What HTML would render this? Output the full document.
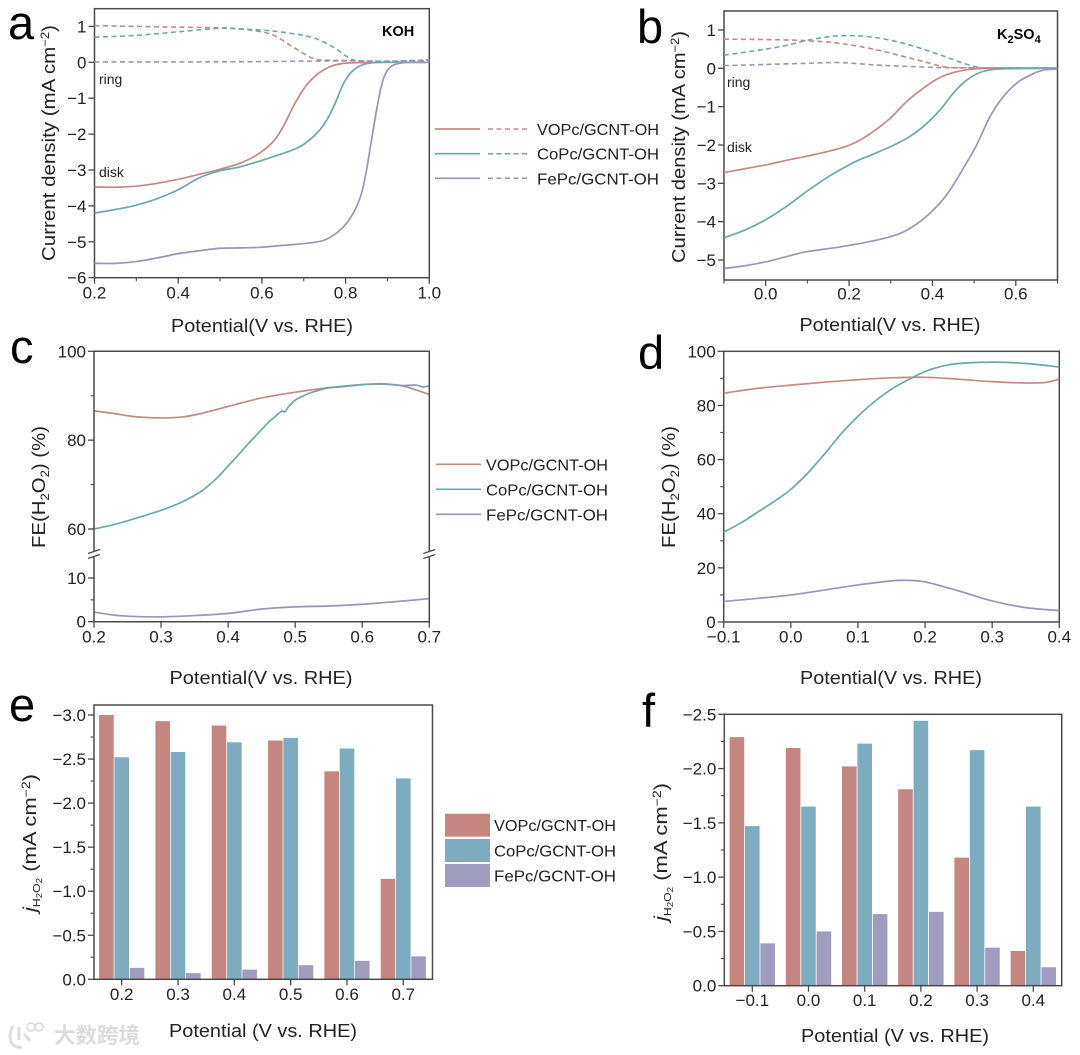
<!DOCTYPE html>
<html lang="en">
<head>
<meta charset="utf-8">
<title>H2O2 electrocatalysis panels</title>
<style>
html,body{margin:0;padding:0;background:#fff;width:1080px;height:1055px;overflow:hidden}
svg{display:block;filter:blur(0.35px)}
text{font-family:"Liberation Sans","Noto Sans CJK SC",sans-serif;fill:#222}
</style>
</head>
<body>
<svg id="figure" xmlns="http://www.w3.org/2000/svg" width="1080" height="1055" viewBox="0 0 1080 1055"></svg>
<script>
// ---------- Series labels ----------
const seriesNames = ['VOPc/GCNT-OH', 'CoPc/GCNT-OH', 'FePc/GCNT-OH'];

// ---------- Panel a (KOH) ----------
const aVoDiskX = [0.2,0.25,0.3,0.35,0.4,0.45,0.5,0.548,0.588,0.627,0.651,0.679,0.707,0.735,0.763,0.795,0.83,0.9,1.0];
const aVoDiskY = [-3.47,-3.48,-3.45,-3.37,-3.26,-3.12,-2.98,-2.81,-2.58,-2.21,-1.79,-1.14,-0.63,-0.31,-0.12,-0.03,-0.01,0,0];
const aCoDiskX = [0.2,0.25,0.3,0.35,0.4,0.45,0.5,0.548,0.627,0.691,0.731,0.755,0.775,0.795,0.815,0.838,0.866,0.9,1.0];
const aCoDiskY = [-4.2,-4.1,-3.98,-3.8,-3.55,-3.22,-3.02,-2.91,-2.63,-2.35,-1.98,-1.61,-1.14,-0.59,-0.26,-0.08,-0.01,0,0];
const aFeDiskX = [0.2,0.25,0.3,0.35,0.4,0.45,0.5,0.55,0.6,0.65,0.7,0.75,0.79,0.818,0.838,0.85,0.862,0.874,0.886,0.898,0.914,0.94,1.0];
const aFeDiskY = [-5.6,-5.6,-5.55,-5.45,-5.33,-5.25,-5.18,-5.17,-5.15,-5.1,-5.05,-4.95,-4.64,-4.21,-3.65,-3.0,-2.16,-1.33,-0.63,-0.26,-0.08,-0.01,0];
const aVoRingX = [0.2,0.3,0.4,0.5,0.548,0.588,0.627,0.667,0.699,0.727,0.755,0.8,0.9,1.0];
const aVoRingY = [1.02,1.0,0.98,0.96,0.93,0.87,0.76,0.48,0.25,0.09,0.06,0.05,0.03,0.05];
const aCoRingX = [0.2,0.3,0.4,0.5,0.548,0.627,0.707,0.747,0.779,0.803,0.823,0.85,1.0];
const aCoRingY = [0.7,0.75,0.85,0.95,0.93,0.87,0.73,0.57,0.36,0.16,0.05,0.03,0.03];
const aFeRingX = [0.2,0.4,0.6,0.8,0.9,1.0];
const aFeRingY = [0.01,0.01,0.02,0.04,0.03,0.07];
const aXTicks = [0.2,0.4,0.6,0.8,1.0];
const aXMinor = [0.3,0.5,0.7,0.9];
const aYTicks = [1,0,-1,-2,-3,-4,-5,-6];

// ---------- Panel b (K2SO4) ----------
const bVoDiskX = [-0.1,-0.05,0,0.05,0.1,0.178,0.218,0.258,0.298,0.338,0.378,0.418,0.458,0.498,0.55,0.7];
const bVoDiskY = [-2.72,-2.62,-2.52,-2.4,-2.29,-2.09,-1.92,-1.65,-1.31,-0.87,-0.52,-0.24,-0.09,-0.02,0,0];
const bCoDiskX = [-0.1,-0.05,0,0.05,0.1,0.15,0.178,0.218,0.258,0.298,0.338,0.378,0.418,0.45,0.482,0.514,0.546,0.58,0.7];
const bCoDiskY = [-4.42,-4.22,-3.95,-3.6,-3.2,-2.83,-2.65,-2.42,-2.24,-2.05,-1.83,-1.52,-1.09,-0.65,-0.31,-0.11,-0.03,-0.01,0];
const bFeDiskX = [-0.1,-0.05,0,0.05,0.1,0.178,0.258,0.322,0.37,0.41,0.442,0.474,0.506,0.538,0.57,0.602,0.634,0.666,0.7];
const bFeDiskY = [-5.22,-5.15,-5.05,-4.91,-4.78,-4.66,-4.5,-4.31,-4.0,-3.61,-3.18,-2.61,-2.0,-1.26,-0.74,-0.39,-0.18,-0.05,-0.02];
const bVoRingX = [-0.1,0,0.1,0.178,0.258,0.338,0.394,0.434,0.5,0.7];
const bVoRingY = [0.76,0.75,0.72,0.65,0.5,0.29,0.13,0.03,0.01,0.01];
const bCoRingX = [-0.1,0,0.05,0.1,0.178,0.258,0.338,0.418,0.474,0.514,0.55,0.7];
const bCoRingY = [0.34,0.5,0.6,0.73,0.85,0.81,0.63,0.35,0.13,0.02,0.01,0.01];
const bFeRingX = [-0.1,0,0.1,0.178,0.258,0.338,0.418,0.5,0.7];
const bFeRingY = [0.07,0.1,0.13,0.15,0.09,0.05,0.02,0.01,0];
const bXTicks = [0.0,0.2,0.4,0.6];
const bXMinor = [-0.1,0.1,0.3,0.5,0.7];
const bYTicks = [1,0,-1,-2,-3,-4,-5];

// ---------- Panel c (KOH, broken axis) ----------
const cVoX = [0.2,0.23,0.26,0.3,0.33,0.36,0.4,0.45,0.5,0.55,0.6,0.63,0.66,0.68,0.7];
const cVoY = [86.6,86,85.3,85,85.2,86,87.6,89.5,90.8,91.8,92.5,92.6,92.2,91.3,90.3];
const cCoX = [0.2,0.23,0.26,0.3,0.33,0.36,0.38,0.39,0.4,0.41,0.42,0.43,0.44,0.45,0.46,0.47,0.48,0.485,0.49,0.5,0.51,0.52,0.53,0.55,0.57,0.6,0.63,0.66,0.68,0.69,0.7];
const cCoY = [60,61,62.3,64.2,66,68.5,71,72.5,74.2,75.8,77.5,79.2,80.8,82.4,84,85.3,86.5,86.4,87.5,89,89.8,90.5,91,91.8,92,92.5,92.7,92.3,92.4,92,92.2];
const cFeX = [0.2,0.23,0.26,0.3,0.35,0.4,0.45,0.5,0.55,0.6,0.65,0.68,0.7];
const cFeY = [2.2,1.5,1.2,1.1,1.4,1.9,2.9,3.4,3.6,4,4.6,5,5.3];
const cXTicks = [0.2,0.3,0.4,0.5,0.6,0.7];
const cUpperTicks = [60,80,100];
const cUpperMinor = [70,90];
const cLowerTicks = [0,10];
const cLowerMinor = [5];

// ---------- Panel d (K2SO4) ----------
const dVoX = [-0.1,-0.05,0,0.05,0.1,0.15,0.2,0.25,0.3,0.35,0.38,0.4];
const dVoY = [84.5,86.3,87.5,88.6,89.5,90.2,90.4,89.7,88.8,88.3,88.5,89.8];
const dCoX = [-0.1,-0.075,-0.05,-0.025,0,0.025,0.05,0.075,0.1,0.125,0.15,0.175,0.2,0.225,0.25,0.3,0.35,0.4];
const dCoY = [33.2,36.5,40.5,44.5,49,55,62,69.5,76,81.5,86,89.5,92.5,94.5,95.5,96,95.5,94.2];
const dFeX = [-0.1,-0.05,0,0.05,0.1,0.15,0.17,0.2,0.25,0.3,0.35,0.4];
const dFeY = [7.6,8.7,10,11.8,13.7,15.2,15.4,14.8,11.5,7.8,5.3,4.2];
const dXTicks = [-0.1,0.0,0.1,0.2,0.3,0.4];
const dYTicks = [0,20,40,60,80,100];
const dYMinor = [10,30,50,70,90];

// ---------- Panel e (bars, KOH) ----------
const eCategories = [0.2,0.3,0.4,0.5,0.6,0.7];
const eVo = [-3.0,-2.93,-2.88,-2.71,-2.36,-1.14];
const eCo = [-2.52,-2.58,-2.69,-2.74,-2.62,-2.28];
const eFe = [-0.13,-0.07,-0.11,-0.16,-0.21,-0.26];
const eYTicks = [0,-0.5,-1,-1.5,-2,-2.5,-3];
const eYMinor = [-0.25,-0.75,-1.25,-1.75,-2.25,-2.75];

// ---------- Panel f (bars, K2SO4) ----------
const fCategories = [-0.1,0.0,0.1,0.2,0.3,0.4];
const fVo = [-2.29,-2.19,-2.02,-1.81,-1.18,-0.32];
const fCo = [-1.47,-1.65,-2.23,-2.44,-2.17,-1.65];
const fFe = [-0.39,-0.5,-0.66,-0.68,-0.35,-0.17];
const fYTicks = [0,-0.5,-1,-1.5,-2,-2.5];
const fYMinor = [-0.25,-0.75,-1.25,-1.75,-2.25];

// ---------- Drawing helpers ----------
const svg = document.getElementById('figure');
const NS = 'http://www.w3.org/2000/svg';
const LINE = ['#c28b83', '#6fa6ae', '#9a95b9'];
const BAR = ['#c68680', '#7dabc0', '#a09cc0'];
const AX = '#4a4a4a';

function make(parent, tag, attrs, name) {
  const el = document.createElementNS(NS, tag);
  for (const k in attrs) el.setAttribute(k, attrs[k]);
  
  
  parent.appendChild(el);
  return el;
}
function linear(d0, d1, r0, r1) { return v => r0 + (v - d0) * (r1 - r0) / (d1 - d0); }
function label(parent, x, y, str, name, opts) {
  const t = make(parent, 'text', Object.assign({x: x, y: y, 'font-size': 17}, opts || {}), name);
  t.textContent = str;
  return t;
}
function fmt(v, dec) { return v.toFixed(dec).replace('-', '\u2212'); }
function smooth(pts) {
  let d = 'M' + pts[0][0].toFixed(2) + ' ' + pts[0][1].toFixed(2);
  for (let i = 0; i < pts.length - 1; i++) {
    const p0 = pts[Math.max(i - 1, 0)], p1 = pts[i], p2 = pts[i + 1], p3 = pts[Math.min(i + 2, pts.length - 1)];
    const c1x = p1[0] + (p2[0] - p0[0]) / 6, c1y = p1[1] + (p2[1] - p0[1]) / 6;
    const c2x = p2[0] - (p3[0] - p1[0]) / 6, c2y = p2[1] - (p3[1] - p1[1]) / 6;
    d += 'C' + c1x.toFixed(2) + ' ' + c1y.toFixed(2) + ' ' + c2x.toFixed(2) + ' ' + c2y.toFixed(2) + ' ' + p2[0].toFixed(2) + ' ' + p2[1].toFixed(2);
  }
  return d;
}
function curve(g, xs, ys, sx, sy, color, name, dashed) {
  const pts = xs.map((x, i) => [sx(x), sy(ys[i])]);
  const attrs = {d: smooth(pts), fill: 'none', stroke: color, 'stroke-width': dashed ? 1.6 : 1.7};
  if (dashed) attrs['stroke-dasharray'] = '5 3.5';
  make(g, 'path', attrs, name);
}
function xAxis(g, ticks, minor, sx, y0, dec, labelY) {
  ticks.forEach(v => {
    make(g, 'line', {x1: sx(v), x2: sx(v), y1: y0, y2: y0 + 6, stroke: AX, 'stroke-width': 1.3}, 'x-tick');
    label(g, sx(v), labelY, fmt(v, dec), 'x-tick-label', {'text-anchor': 'middle'});
  });
  minor.forEach(v => make(g, 'line', {x1: sx(v), x2: sx(v), y1: y0, y2: y0 + 3.5, stroke: AX, 'stroke-width': 1.1}, 'x-minor-tick'));
}
function yAxis(g, ticks, minor, sy, x0, dec) {
  ticks.forEach(v => {
    make(g, 'line', {x1: x0, x2: x0 - 6, y1: sy(v), y2: sy(v), stroke: AX, 'stroke-width': 1.3}, 'y-tick');
    label(g, x0 - 8, sy(v) + 6, fmt(v, dec), 'y-tick-label', {'text-anchor': 'end'});
  });
  minor.forEach(v => make(g, 'line', {x1: x0, x2: x0 - 3.5, y1: sy(v), y2: sy(v), stroke: AX, 'stroke-width': 1.1}, 'y-minor-tick'));
}
function frame(g, x0, y0, x1, y1) {
  make(g, 'rect', {x: x0, y: y0, width: x1 - x0, height: y1 - y0, fill: 'none', stroke: AX, 'stroke-width': 1.5}, 'plot-frame');
}
function panelLetter(g, x, y, ch) {
  label(g, x, y, ch, 'panel-letter-' + ch, {'font-size': 47, style: 'fill:#000'});
}
function xTitle(g, cx, y, str, len) {
  label(g, cx, y, str, 'x-axis-title', {'font-size': 18, 'text-anchor': 'middle', textLength: len, lengthAdjust: 'spacingAndGlyphs'});
}
function yTitle(g, x, cy, parts, len, size) {
  const t = make(g, 'text', {transform: 'translate(' + x + ',' + cy + ') rotate(-90)', 'font-size': size || 18, 'text-anchor': 'middle', textLength: len, lengthAdjust: 'spacingAndGlyphs'}, 'y-axis-title');
  parts.forEach(p => {
    const s = document.createElementNS(NS, 'tspan');
    
    
    if (p.dy) s.setAttribute('dy', p.dy);
    if (p.size) s.setAttribute('font-size', p.size);
    if (p.italic) s.setAttribute('font-style', 'italic');
    s.textContent = p.t;
    t.appendChild(s);
  });
}
function panelGroup(name) { return make(svg, 'g', {}, name); }

const CURRENT_TITLE = [{t: 'Current density (mA cm'}, {t: '\u22122', dy: -6, size: 11.5}, {t: ')', dy: 6}];
const FE_TITLE = [{t: 'FE(H'}, {t: '2', dy: 4, size: 11.5}, {t: 'O', dy: -4}, {t: '2', dy: 4, size: 11.5}, {t: ') (%)', dy: -4}];
const J_TITLE = [{t: 'j', italic: true}, {t: 'H', dy: 4, size: 10}, {t: '2', dy: 2, size: 8}, {t: 'O', dy: -2, size: 10}, {t: '2', dy: 2, size: 8}, {t: ' (mA cm', dy: -6}, {t: '\u22122', dy: -6, size: 11.5}, {t: ')', dy: 6}];

// ---------- Panel a ----------
(function () {
  const g = panelGroup('panel-a-koh');
  const sx = linear(0.2, 1.0, 94.5, 429.3), sy = linear(0, -6, 62.3, 277.7);
  frame(g, 94.5, 8.7, 429.3, 277.7);
  curve(g, aVoRingX, aVoRingY, sx, sy, LINE[0], 'vopc-ring-line', true);
  curve(g, aCoRingX, aCoRingY, sx, sy, LINE[1], 'copc-ring-line', true);
  curve(g, aFeRingX, aFeRingY, sx, sy, LINE[2], 'fepc-ring-line', true);
  curve(g, aVoDiskX, aVoDiskY, sx, sy, LINE[0], 'vopc-disk-line');
  curve(g, aCoDiskX, aCoDiskY, sx, sy, LINE[1], 'copc-disk-line');
  curve(g, aFeDiskX, aFeDiskY, sx, sy, LINE[2], 'fepc-disk-line');
  xAxis(g, aXTicks, aXMinor, sx, 277.7, 1, 298.5);
  yAxis(g, aYTicks, [], sy, 94.5, 0);
  xTitle(g, 262, 332, 'Potential(V vs. RHE)', 182);
  yTitle(g, 55, 143, CURRENT_TITLE, 236);
  panelLetter(g, 8, 39, 'a');
  label(g, 382, 36, 'KOH', 'electrolyte-label-koh', {'font-size': 14.5, 'font-weight': 'bold', style: 'fill:#000'});
  label(g, 99, 84, 'ring', 'ring-annotation', {'font-size': 14});
  label(g, 99, 177, 'disk', 'disk-annotation', {'font-size': 14});
  const ly = [129, 153.7, 178.3];
  seriesNames.forEach((n, i) => {
    const e = make(g, 'g', {}, 'legend-entry');
    make(e, 'line', {x1: 435, x2: 480, y1: ly[i], y2: ly[i], stroke: LINE[i], 'stroke-width': 1.7}, 'legend-disk-swatch');
    make(e, 'line', {x1: 488, x2: 530, y1: ly[i], y2: ly[i], stroke: LINE[i], 'stroke-width': 1.5, 'stroke-dasharray': '5 3.5'}, 'legend-ring-swatch');
    label(e, 537, ly[i] + 6, n, 'legend-label', {'font-size': 15.5, textLength: 122, lengthAdjust: 'spacingAndGlyphs'});
  });
})();

// ---------- Panel b ----------
(function () {
  const g = panelGroup('panel-b-k2so4');
  const sx = linear(-0.1, 0.7, 724, 1057.5), sy = linear(0, -5, 68.3, 260);
  frame(g, 724, 11, 1057.5, 280);
  curve(g, bVoRingX, bVoRingY, sx, sy, LINE[0], 'vopc-ring-line', true);
  curve(g, bCoRingX, bCoRingY, sx, sy, LINE[1], 'copc-ring-line', true);
  curve(g, bFeRingX, bFeRingY, sx, sy, LINE[2], 'fepc-ring-line', true);
  curve(g, bVoDiskX, bVoDiskY, sx, sy, LINE[0], 'vopc-disk-line');
  curve(g, bCoDiskX, bCoDiskY, sx, sy, LINE[1], 'copc-disk-line');
  curve(g, bFeDiskX, bFeDiskY, sx, sy, LINE[2], 'fepc-disk-line');
  xAxis(g, bXTicks, bXMinor, sx, 280, 1, 299.5);
  yAxis(g, bYTicks, [], sy, 724, 0);
  xTitle(g, 890, 331, 'Potential(V vs. RHE)', 181);
  yTitle(g, 685, 147, CURRENT_TITLE, 232);
  panelLetter(g, 637, 43, 'b');
  const t = label(g, 997, 39, 'K', 'electrolyte-label-k2so4', {'font-size': 14.5, 'font-weight': 'bold', style: 'fill:#000'});
  [['2', 4, 11], ['SO', -4, 14.5], ['4', 4, 11]].forEach(p => {
    const s = document.createElementNS(NS, 'tspan');
    
    
    s.setAttribute('dy', p[1]);
    s.setAttribute('font-size', p[2]);
    s.textContent = p[0];
    t.appendChild(s);
  });
  label(g, 727, 87, 'ring', 'ring-annotation', {'font-size': 14});
  label(g, 727, 152, 'disk', 'disk-annotation', {'font-size': 14});
})();

// ---------- Panel c ----------
(function () {
  const g = panelGroup('panel-c-koh-fe');
  const x0 = 94, x1 = 429.3, top = 351.3, bot = 621.7;
  const sx = linear(0.2, 0.7, x0, x1), up = linear(60, 100, 529, 351.3), low = linear(0, 10, 621.7, 578);
  curve(g, cVoX, cVoY, sx, up, LINE[0], 'vopc-fe-line');
  curve(g, cCoX, cCoY, sx, up, LINE[1], 'copc-fe-line');
  curve(g, cFeX, cFeY, sx, low, LINE[2], 'fepc-fe-line');
  make(g, 'path', {d: 'M' + x0 + ' 551V' + top + 'H' + x1 + 'V551M' + x0 + ' 557V' + bot + 'H' + x1 + 'V557', fill: 'none', stroke: AX, 'stroke-width': 1.5}, 'plot-frame-broken');
  [x0, x1].forEach(x => {
    make(g, 'line', {x1: x - 6, x2: x + 6, y1: 553.5, y2: 549.5, stroke: AX, 'stroke-width': 1.3}, 'axis-break-mark');
    make(g, 'line', {x1: x - 6, x2: x + 6, y1: 558.5, y2: 554.5, stroke: AX, 'stroke-width': 1.3}, 'axis-break-mark');
  });
  xAxis(g, cXTicks, [], sx, bot, 1, 642.5);
  yAxis(g, cUpperTicks, cUpperMinor, up, x0, 0);
  yAxis(g, cLowerTicks, cLowerMinor, low, x0, 0);
  xTitle(g, 261, 684, 'Potential(V vs. RHE)', 183);
  yTitle(g, 45, 487, FE_TITLE, 122);
  panelLetter(g, 10, 363, 'c');
  const ly = [464.3, 489.3, 514.3];
  seriesNames.forEach((n, i) => {
    const e = make(g, 'g', {}, 'legend-entry');
    make(e, 'line', {x1: 436, x2: 481, y1: ly[i], y2: ly[i], stroke: LINE[i], 'stroke-width': 1.7}, 'legend-swatch');
    label(e, 486, ly[i] + 6, n, 'legend-label', {'font-size': 15.5, textLength: 122, lengthAdjust: 'spacingAndGlyphs'});
  });
})();

// ---------- Panel d ----------
(function () {
  const g = panelGroup('panel-d-k2so4-fe');
  const sx = linear(-0.1, 0.4, 723.7, 1059.3), sy = linear(0, 100, 622, 351.3);
  frame(g, 723.7, 351.3, 1059.3, 622);
  curve(g, dVoX, dVoY, sx, sy, LINE[0], 'vopc-fe-line');
  curve(g, dCoX, dCoY, sx, sy, LINE[1], 'copc-fe-line');
  curve(g, dFeX, dFeY, sx, sy, LINE[2], 'fepc-fe-line');
  xAxis(g, dXTicks, [], sx, 622, 1, 642.5);
  yAxis(g, dYTicks, dYMinor, sy, 723.7, 0);
  xTitle(g, 891, 684, 'Potential(V vs. RHE)', 182);
  yTitle(g, 675, 487, FE_TITLE, 122);
  panelLetter(g, 638, 369, 'd');
})();

// ---------- Bars ----------
function bars(g, cats, sx, sy, w, step, list) {
  list.forEach((vals, s) => {
    vals.forEach((v, i) => {
      const top = sy(v), base = sy(0);
      make(g, 'rect', {x: sx(cats[i]) + (s - 1) * step - w / 2, y: top, width: w, height: base - top, fill: BAR[s]}, 'bar-' + seriesNames[s].slice(0, 2).toLowerCase() + '-' + cats[i].toFixed(1));
    });
  });
}

// ---------- Panel e ----------
(function () {
  const g = panelGroup('panel-e-koh-bars');
  const sx = linear(0.2, 0.7, 121.7, 403.3), sy = linear(0, -3, 979.3, 715);
  bars(g, eCategories, sx, sy, 14.6, 15.3, [eVo, eCo, eFe]);
  frame(g, 94, 705, 432.5, 979.3);
  xAxis(g, eCategories, [], sx, 979.3, 1, 1000);
  yAxis(g, eYTicks, eYMinor, sy, 94, 1);
  xTitle(g, 263, 1037, 'Potential (V vs. RHE)', 188);
  yTitle(g, 36, 843, J_TITLE, 138);
  panelLetter(g, 9, 721, 'e');
  const ly = [813.7, 839, 864];
  seriesNames.forEach((n, i) => {
    const e = make(g, 'g', {}, 'legend-entry');
    make(e, 'rect', {x: 445, y: ly[i], width: 45, height: 23, fill: BAR[i]}, 'legend-swatch');
    label(e, 494, ly[i] + 17.5, n, 'legend-label', {'font-size': 15.5, textLength: 122, lengthAdjust: 'spacingAndGlyphs'});
  });
  const w = make(svg, 'g', {opacity: 0.8}, 'watermark');
  make(w, 'path', {d: 'M13 1026 C7 1036 10 1049 22 1047 M19 1027 V1040 M24 1034 L30 1041', fill: 'none', stroke: '#d6d6d6', 'stroke-width': 3}, 'watermark-logo-stroke');
  make(w, 'circle', {cx: 31, cy: 1027, r: 4, fill: 'none', stroke: '#d0d0d0', 'stroke-width': 1.5}, 'watermark-logo-circle');
  make(w, 'circle', {cx: 39, cy: 1027, r: 4, fill: 'none', stroke: '#d0d0d0', 'stroke-width': 1.5}, 'watermark-logo-circle');
  label(w, 54, 1043, '大数跨境', 'watermark-text', {'font-size': 21.5, style: 'fill:#d4d4d4', 'font-weight': 'bold'});
})();

// ---------- Panel f ----------
(function () {
  const g = panelGroup('panel-f-k2so4-bars');
  const sx = linear(-0.1, 0.4, 752.3, 1033.3), sy = linear(0, -2.5, 985.7, 714.3);
  bars(g, fCategories, sx, sy, 14.6, 15.4, [fVo, fCo, fFe]);
  frame(g, 724.3, 714.3, 1061.7, 985.7);
  xAxis(g, fCategories, [], sx, 985.7, 1, 1006);
  yAxis(g, fYTicks, fYMinor, sy, 724.3, 1);
  xTitle(g, 895, 1042, 'Potential (V vs. RHE)', 188);
  yTitle(g, 667, 852, J_TITLE, 138);
  panelLetter(g, 642, 727, 'f');
})();
</script>
</body>
</html>
